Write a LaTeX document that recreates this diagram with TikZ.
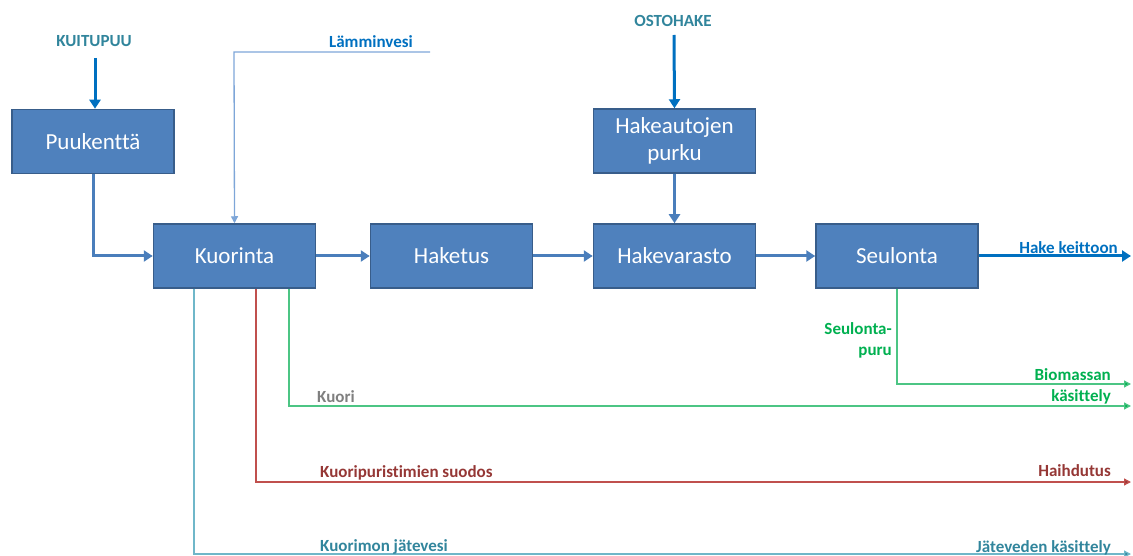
\documentclass[tikz,border=0pt]{standalone}
\usepackage{fontspec}
\setmainfont{Carlito}[Ligatures={NoCommon}]
\usetikzlibrary{arrows.meta}
\definecolor{boxfill}{HTML}{4F81BD}
\definecolor{boxdraw}{HTML}{385D8A}
\definecolor{flowblue}{HTML}{4A7EBB}
\definecolor{inblue}{HTML}{0070C0}
\definecolor{labteal}{HTML}{31859C}
\definecolor{lineteal}{HTML}{6FB7C9}
\definecolor{lgreen}{HTML}{00B050}
\definecolor{lgreenline}{HTML}{4CC584}
\definecolor{lred}{HTML}{C0504D}
\definecolor{dred}{HTML}{953735}
\definecolor{kgray}{HTML}{7F7F7F}
\definecolor{lblue}{HTML}{7EA6D8}
\tikzset{
  proc/.style={draw=boxdraw, line width=1.5pt, fill=boxfill, text=white, minimum width=162pt, minimum height=64pt, align=center, font=\fontsize{23}{27}\selectfont, inner sep=0pt},
  flow/.style={draw=flowblue, line width=3pt, -{Triangle[length=9pt,width=11pt]}},
  inflow/.style={draw=inblue, line width=3pt, -{Triangle[length=9pt,width=11pt]}},
  thin/.style={line width=1.3pt, -{Triangle[length=7pt,width=7pt]}},
  lab/.style={font=\bfseries\fontsize{17}{21}\selectfont, inner sep=0pt}
}
\begin{document}
\begin{tikzpicture}[x=1pt,y=-1pt]
\useasboundingbox (0,0) rectangle (1133,556);
% boxes
\node[proc] (puu) at (93,141.5) {Puukenttä};
\node[proc] (kuo) at (234.5,256) {Kuorinta};
\node[proc] (hak) at (451.5,256) {Haketus};
\node[proc] (var) at (674.5,256) {Hakevarasto};
\node[proc] (sel) at (897,256) {Seulonta};
\node[proc] (pur) at (674.5,141) {Hakeautojen\\purku};
% top labels
\node[lab, text=labteal] (kuitu) at (94,41) {KUITUPUU};
\node[lab, text=labteal] (osto) at (673,21) {OSTOHAKE};
\node[lab, text=inblue, anchor=south] (lamm) at (371,48) {Lämminvesi};
\coordinate (lammR) at (430,52);
\coordinate (lammL) at (234,52);
% main flows
\draw[inflow] (95,58) -- (puu.north -| 95,0);
\draw[inflow] (674,35) -- (pur.north);
\draw[flow] (puu.south) |- (kuo.west);
\draw[flow] (kuo.east) -- (hak.west);
\draw[flow] (hak.east) -- (var.west);
\draw[flow] (var.east) -- (sel.west);
\draw[flow] (pur.south) -- (var.north);
\coordinate (hkEnd) at (1131,256);
\draw[flow, draw=inblue] (sel.east) -- (hkEnd);
\node[lab, text=inblue, anchor=south east] (hk) at (1118,254) {Hake keittoon};
% Lämminvesi
\draw[lblue, line width=1.3pt, -{Triangle[length=7pt,width=7pt]}] (lammR) -- (lammL) -- (kuo.north);
% Seulontapuru
\coordinate (spEnd) at (1131,384);
\draw[thin, lgreenline, -{Triangle[length=7pt,width=7pt,fill=lgreen]}] (sel.south) |- (spEnd);
\node[lab, text=lgreen, align=right, anchor=east] (sp) at (892,340) {Seulonta-\\puru};
% Kuori
\coordinate (kuoriEnd) at (1131,406);
\draw[thin, lgreenline, -{Triangle[length=7pt,width=7pt,fill=lgreen]}] (kuo.south -| 289,0) |- (kuoriEnd);
\node[lab, text=kgray, anchor=south west] (kuori) at (317,403) {Kuori};
\node[lab, text=lgreen, align=right, anchor=east] (bio) at (1111,386) {Biomassan\\käsittely};
% red
\coordinate (redEnd) at (1131,482);
\draw[thin, lred, -{Triangle[length=7pt,width=7pt,fill=dred]}] (kuo.south -| 256,0) |- (redEnd);
\node[lab, text=dred, anchor=south west] (suodos) at (320,480) {Kuoripuristimien suodos};
\node[lab, text=dred, anchor=south east] (haih) at (1111,477) {Haihdutus};
% teal
\coordinate (tealEnd) at (1131,554);
\draw[thin, lineteal, -{Triangle[length=7pt,width=7pt,fill=labteal]}] (kuo.south -| 194,0) |- (tealEnd);
\node[lab, text=labteal, anchor=south west] (jate) at (320,555) {Kuorimon jätevesi};
\node[lab, text=labteal, anchor=south east] (jk) at (1111,555) {Jäteveden käsittely};
\end{tikzpicture}
\end{document}
